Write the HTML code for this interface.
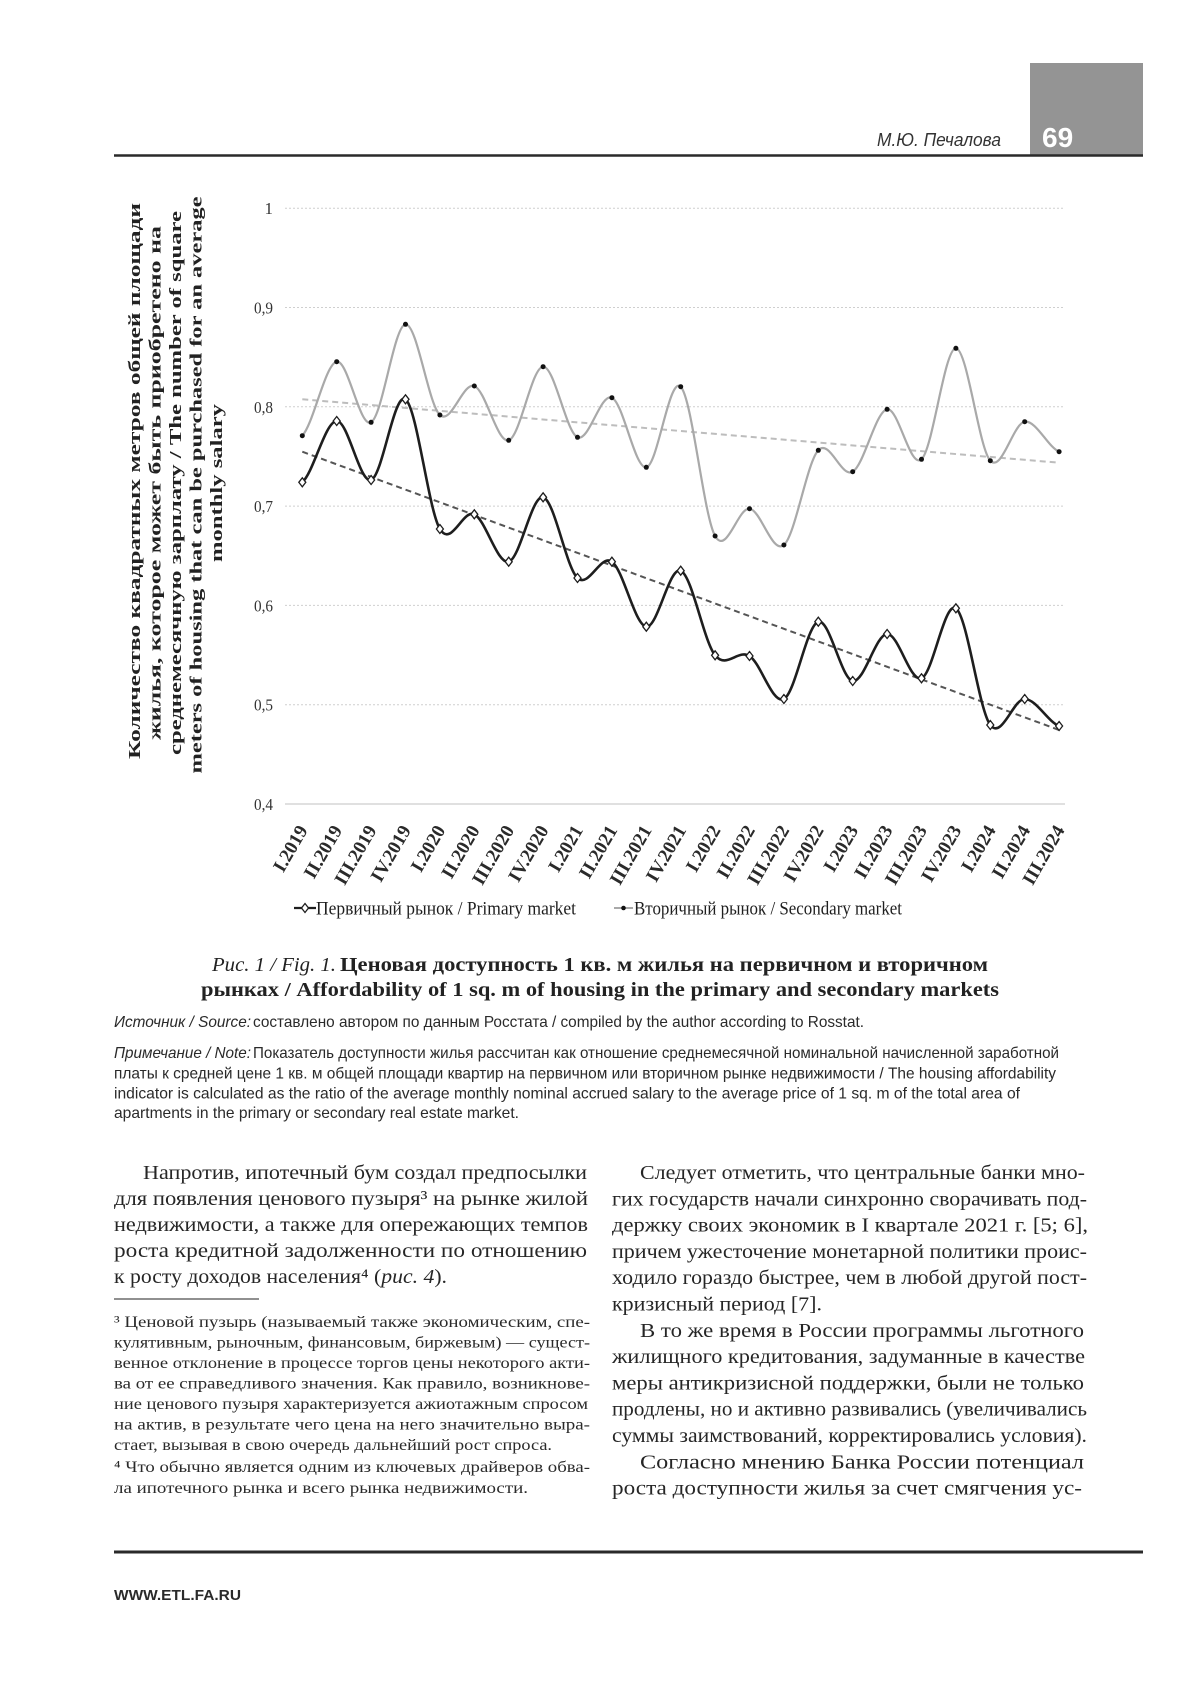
<!DOCTYPE html>
<html><head><meta charset="utf-8">
<style>
html,body{margin:0;padding:0;background:#fff;}
svg{display:block;}
.serif{font-family:"Liberation Serif","Noto Serif CJK SC",serif;}
.sans{font-family:"Liberation Sans","Noto Sans CJK SC",sans-serif;}
</style></head>
<body>
<svg width="1200" height="1697" viewBox="0 0 1200 1697" xmlns="http://www.w3.org/2000/svg">
<rect x="0" y="0" width="1200" height="1697" fill="#fff"/>

<!-- Header -->
<rect x="1030" y="63" width="113" height="93" fill="#949494"/>
<line x1="114" y1="155.5" x2="1143" y2="155.5" stroke="#2a2a2a" stroke-width="2.5"/>
<text x="1042" y="147" class="sans" font-size="28" font-weight="bold" fill="#fff">69</text>
<text x="877" y="146" class="sans" font-size="18" font-style="italic" fill="#333" textLength="124" lengthAdjust="spacingAndGlyphs">М.Ю. Печалова</text>

<!-- Chart gridlines -->
<g stroke="#cfcfcf" stroke-width="1" stroke-dasharray="2,2">
<line x1="285" y1="208.2" x2="1065" y2="208.2"/>
<line x1="285" y1="307.5" x2="1065" y2="307.5"/>
<line x1="285" y1="406.8" x2="1065" y2="406.8"/>
<line x1="285" y1="506.1" x2="1065" y2="506.1"/>
<line x1="285" y1="605.4" x2="1065" y2="605.4"/>
<line x1="285" y1="704.7" x2="1065" y2="704.7"/>
</g>
<line x1="285" y1="804" x2="1065" y2="804" stroke="#d6d6d6" stroke-width="1.5"/>

<!-- Y tick labels -->
<g class="serif" font-size="17" fill="#333" text-anchor="end">
<text x="273" y="214">1</text>
<text x="273" y="313.5" textLength="19" lengthAdjust="spacingAndGlyphs">0,9</text>
<text x="273" y="412.8" textLength="19" lengthAdjust="spacingAndGlyphs">0,8</text>
<text x="273" y="512.1" textLength="19" lengthAdjust="spacingAndGlyphs">0,7</text>
<text x="273" y="611.4" textLength="19" lengthAdjust="spacingAndGlyphs">0,6</text>
<text x="273" y="710.7" textLength="19" lengthAdjust="spacingAndGlyphs">0,5</text>
<text x="273" y="810" textLength="19" lengthAdjust="spacingAndGlyphs">0,4</text>
</g>

<!-- Y axis title -->
<g class="serif" font-size="17" font-weight="bold" fill="#222" text-anchor="middle">
<text transform="translate(140,481) rotate(-90)" textLength="556" lengthAdjust="spacingAndGlyphs">Количество квадратных метров общей площади</text>
<text transform="translate(160.5,483) rotate(-90)" textLength="514" lengthAdjust="spacingAndGlyphs">жилья, которое может быть приобретено на</text>
<text transform="translate(181,483) rotate(-90)" textLength="544" lengthAdjust="spacingAndGlyphs">среднемесячную зарплату / The number of square</text>
<text transform="translate(201.5,485) rotate(-90)" textLength="577" lengthAdjust="spacingAndGlyphs">meters of housing that can be purchased for an average</text>
<text transform="translate(222,483) rotate(-90)" textLength="158" lengthAdjust="spacingAndGlyphs">monthly salary</text>
</g>

<!-- Trend lines -->
<line x1="302.3" y1="399.3" x2="1059.1" y2="462.7" stroke="#bdbdbd" stroke-width="2" stroke-dasharray="6,4"/>
<line x1="302.3" y1="451.7" x2="1059.1" y2="730" stroke="#555" stroke-width="2" stroke-dasharray="6,4"/>

<!-- Secondary series (gray) -->
<path fill="none" stroke="#a9a9a9" stroke-width="2.2" d="M302.3,435.7
C313.77,423.37 325.23,363.93 336.7,361.7
C348.17,359.47 359.63,428.53 371.1,422.3
C382.57,416.07 394.03,325.52 405.5,324.3
C416.97,323.08 428.43,404.72 439.9,415
C451.37,425.28 462.83,381.78 474.3,386
C485.77,390.22 497.23,443.52 508.7,440.3
C520.17,437.08 531.63,367.2 543.1,366.7
C554.57,366.2 566.03,432.13 577.5,437.3
C588.97,442.47 600.43,392.7 611.9,397.7
C623.37,402.7 634.83,469.13 646.3,467.3
C657.77,465.47 669.23,375.25 680.7,386.7
C692.17,398.15 703.63,515.67 715.1,536
C726.57,556.33 738.03,507.2 749.5,508.7
C760.97,510.2 772.43,554.73 783.9,545
C795.37,535.27 806.83,462.52 818.3,450.3
C829.77,438.08 841.23,478.53 852.7,471.7
C864.17,464.87 875.63,411.37 887.1,409.3
C898.57,407.23 910.03,469.47 921.5,459.3
C932.97,449.13 944.43,348.07 955.9,348.3
C967.37,348.53 978.83,448.47 990.3,460.7
C1001.77,472.93 1013.23,423.2 1024.7,421.7
C1036.17,420.2 1047.63,446.7 1059.1,451.7"/>

<!-- Primary series (black) -->
<path fill="none" stroke="#1e1e1e" stroke-width="2.6" d="M302.3,482.3
C313.77,472.08 325.23,421.38 336.7,421
C348.17,420.62 359.63,483.62 371.1,480
C382.57,476.38 394.03,391.13 405.5,399.3
C416.97,407.47 428.43,509.83 439.9,529
C451.37,548.17 462.83,508.85 474.3,514.3
C485.77,519.75 497.23,564.53 508.7,561.7
C520.17,558.87 531.63,494.58 543.1,497.3
C554.57,500.02 566.03,567.27 577.5,578
C588.97,588.73 600.43,553.58 611.9,561.7
C623.37,569.82 634.83,625.2 646.3,626.7
C657.77,628.2 669.23,565.93 680.7,570.7
C692.17,575.47 703.63,641.08 715.1,655.3
C726.57,669.52 738.03,648.72 749.5,656
C760.97,663.28 772.43,704.72 783.9,699
C795.37,693.28 806.83,624.7 818.3,621.7
C829.77,618.7 841.23,678.95 852.7,681
C864.17,683.05 875.63,634.45 887.1,634
C898.57,633.55 910.03,682.58 921.5,678.3
C932.97,674.02 944.43,600.52 955.9,608.3
C967.37,616.08 978.83,709.88 990.3,725
C1001.77,740.12 1013.23,698.83 1024.7,699
C1036.17,699.17 1047.63,721.5 1059.1,726"/>

<!-- Secondary markers -->
<g fill="#111">
<circle cx="302.3" cy="435.7" r="2.5"/><circle cx="336.7" cy="361.7" r="2.5"/><circle cx="371.1" cy="422.3" r="2.5"/>
<circle cx="405.5" cy="324.3" r="2.5"/><circle cx="439.9" cy="415" r="2.5"/><circle cx="474.3" cy="386" r="2.5"/>
<circle cx="508.7" cy="440.3" r="2.5"/><circle cx="543.1" cy="366.7" r="2.5"/><circle cx="577.5" cy="437.3" r="2.5"/>
<circle cx="611.9" cy="397.7" r="2.5"/><circle cx="646.3" cy="467.3" r="2.5"/><circle cx="680.7" cy="386.7" r="2.5"/>
<circle cx="715.1" cy="536" r="2.5"/><circle cx="749.5" cy="508.7" r="2.5"/><circle cx="783.9" cy="545" r="2.5"/>
<circle cx="818.3" cy="450.3" r="2.5"/><circle cx="852.7" cy="471.7" r="2.5"/><circle cx="887.1" cy="409.3" r="2.5"/>
<circle cx="921.5" cy="459.3" r="2.5"/><circle cx="955.9" cy="348.3" r="2.5"/><circle cx="990.3" cy="460.7" r="2.5"/>
<circle cx="1024.7" cy="421.7" r="2.5"/><circle cx="1059.1" cy="451.7" r="2.5"/>
</g>

<!-- Primary markers (open diamonds) -->
<path fill="#fff" stroke="#1e1e1e" stroke-width="1.3" d="
M302.3,477.8 l3.5,4.5 l-3.5,4.5 l-3.5,-4.5 z
M336.7,416.5 l3.5,4.5 l-3.5,4.5 l-3.5,-4.5 z
M371.1,475.5 l3.5,4.5 l-3.5,4.5 l-3.5,-4.5 z
M405.5,394.8 l3.5,4.5 l-3.5,4.5 l-3.5,-4.5 z
M439.9,524.5 l3.5,4.5 l-3.5,4.5 l-3.5,-4.5 z
M474.3,509.8 l3.5,4.5 l-3.5,4.5 l-3.5,-4.5 z
M508.7,557.2 l3.5,4.5 l-3.5,4.5 l-3.5,-4.5 z
M543.1,492.8 l3.5,4.5 l-3.5,4.5 l-3.5,-4.5 z
M577.5,573.5 l3.5,4.5 l-3.5,4.5 l-3.5,-4.5 z
M611.9,557.2 l3.5,4.5 l-3.5,4.5 l-3.5,-4.5 z
M646.3,622.2 l3.5,4.5 l-3.5,4.5 l-3.5,-4.5 z
M680.7,566.2 l3.5,4.5 l-3.5,4.5 l-3.5,-4.5 z
M715.1,650.8 l3.5,4.5 l-3.5,4.5 l-3.5,-4.5 z
M749.5,651.5 l3.5,4.5 l-3.5,4.5 l-3.5,-4.5 z
M783.9,694.5 l3.5,4.5 l-3.5,4.5 l-3.5,-4.5 z
M818.3,617.2 l3.5,4.5 l-3.5,4.5 l-3.5,-4.5 z
M852.7,676.5 l3.5,4.5 l-3.5,4.5 l-3.5,-4.5 z
M887.1,629.5 l3.5,4.5 l-3.5,4.5 l-3.5,-4.5 z
M921.5,673.8 l3.5,4.5 l-3.5,4.5 l-3.5,-4.5 z
M955.9,603.8 l3.5,4.5 l-3.5,4.5 l-3.5,-4.5 z
M990.3,720.5 l3.5,4.5 l-3.5,4.5 l-3.5,-4.5 z
M1024.7,694.5 l3.5,4.5 l-3.5,4.5 l-3.5,-4.5 z
M1059.1,721.5 l3.5,4.5 l-3.5,4.5 l-3.5,-4.5 z"/>

<!-- X labels -->
<g class="serif" font-size="19" font-weight="bold" fill="#2a2a2a" text-anchor="end">
<text transform="translate(308.3,830) rotate(-60)">I.2019</text>
<text transform="translate(342.7,830) rotate(-60)">II.2019</text>
<text transform="translate(377.1,830) rotate(-60)">III.2019</text>
<text transform="translate(411.5,830) rotate(-60)">IV.2019</text>
<text transform="translate(445.9,830) rotate(-60)">I.2020</text>
<text transform="translate(480.3,830) rotate(-60)">II.2020</text>
<text transform="translate(514.7,830) rotate(-60)">III.2020</text>
<text transform="translate(549.1,830) rotate(-60)">IV.2020</text>
<text transform="translate(583.5,830) rotate(-60)">I.2021</text>
<text transform="translate(617.9,830) rotate(-60)">II.2021</text>
<text transform="translate(652.3,830) rotate(-60)">III.2021</text>
<text transform="translate(686.7,830) rotate(-60)">IV.2021</text>
<text transform="translate(721.1,830) rotate(-60)">I.2022</text>
<text transform="translate(755.5,830) rotate(-60)">II.2022</text>
<text transform="translate(789.9,830) rotate(-60)">III.2022</text>
<text transform="translate(824.3,830) rotate(-60)">IV.2022</text>
<text transform="translate(858.7,830) rotate(-60)">I.2023</text>
<text transform="translate(893.1,830) rotate(-60)">II.2023</text>
<text transform="translate(927.5,830) rotate(-60)">III.2023</text>
<text transform="translate(961.9,830) rotate(-60)">IV.2023</text>
<text transform="translate(996.3,830) rotate(-60)">I.2024</text>
<text transform="translate(1030.7,830) rotate(-60)">II.2024</text>
<text transform="translate(1065.1,830) rotate(-60)">III.2024</text>
</g>

<!-- Legend -->
<line x1="294" y1="908" x2="316" y2="908" stroke="#1e1e1e" stroke-width="2.2"/>
<path d="M305,903.5 l3.5,4.5 l-3.5,4.5 l-3.5,-4.5 z" fill="#fff" stroke="#1e1e1e" stroke-width="1.3"/>
<text x="316" y="914.5" class="serif" font-size="19" fill="#1e1e1e" textLength="260" lengthAdjust="spacingAndGlyphs">Первичный рынок / Primary market</text>
<line x1="614" y1="908" x2="633" y2="908" stroke="#a9a9a9" stroke-width="2"/>
<circle cx="623.5" cy="908" r="2.3" fill="#111"/>
<text x="634" y="914.5" class="serif" font-size="19" fill="#1e1e1e" textLength="268" lengthAdjust="spacingAndGlyphs">Вторичный рынок / Secondary market</text>

<!-- Caption -->
<text x="212" y="971" class="serif" font-size="20" font-style="italic" fill="#222" textLength="124" lengthAdjust="spacingAndGlyphs">Рис. 1 / Fig. 1.</text>
<text x="340" y="971" class="serif" font-size="20" font-weight="bold" fill="#222" textLength="648" lengthAdjust="spacingAndGlyphs">Ценовая доступность 1 кв. м жилья на первичном и вторичном</text>
<text x="201" y="996" class="serif" font-size="20" font-weight="bold" fill="#222" textLength="798" lengthAdjust="spacingAndGlyphs">рынках / Affordability of 1 sq. m of housing in the primary and secondary markets</text>

<!-- Source & note -->
<g class="sans" font-size="16" fill="#2a2a2a">
<text x="114" y="1027" font-style="italic" textLength="137" lengthAdjust="spacingAndGlyphs">Источник / Source:</text>
<text x="253" y="1027" textLength="611" lengthAdjust="spacingAndGlyphs">составлено автором по данным Росстата / compiled by the author according to Rosstat.</text>
<text x="114" y="1058" font-style="italic" textLength="137" lengthAdjust="spacingAndGlyphs">Примечание / Note:</text>
<text x="253" y="1058" textLength="806" lengthAdjust="spacingAndGlyphs">Показатель доступности жилья рассчитан как отношение среднемесячной номинальной начисленной заработной</text>
<text x="114" y="1078.5" textLength="942" lengthAdjust="spacingAndGlyphs">платы к средней цене 1 кв. м общей площади квартир на первичном или вторичном рынке недвижимости / The housing affordability</text>
<text x="114" y="1098.5" textLength="906" lengthAdjust="spacingAndGlyphs">indicator is calculated as the ratio of the average monthly nominal accrued salary to the average price of 1 sq. m of the total area of</text>
<text x="114" y="1118" textLength="405" lengthAdjust="spacingAndGlyphs">apartments in the primary or secondary real estate market.</text>
</g>

<!-- Left column body -->
<g class="serif" font-size="20.5" fill="#262626">
<text x="143" y="1179" textLength="444" lengthAdjust="spacingAndGlyphs">Напротив, ипотечный бум создал предпосылки</text>
<text x="114" y="1205" textLength="474" lengthAdjust="spacingAndGlyphs">для появления ценового пузыря³ на рынке жилой</text>
<text x="114" y="1231" textLength="474" lengthAdjust="spacingAndGlyphs">недвижимости, а также для опережающих темпов</text>
<text x="114" y="1257" textLength="473" lengthAdjust="spacingAndGlyphs">роста кредитной задолженности по отношению</text>
<text x="114" y="1283" textLength="333" lengthAdjust="spacingAndGlyphs">к росту доходов населения⁴ (<tspan font-style="italic">рис. 4</tspan>).</text>
</g>
<line x1="114" y1="1299" x2="259" y2="1299" stroke="#222" stroke-width="1"/>

<!-- Footnotes -->
<g class="serif" font-size="16.3" fill="#2a2a2a">
<text x="114" y="1327" textLength="476" lengthAdjust="spacingAndGlyphs">³ Ценовой пузырь (называемый также экономическим, спе-</text>
<text x="114" y="1347.5" textLength="476" lengthAdjust="spacingAndGlyphs">кулятивным, рыночным, финансовым, биржевым) — сущест-</text>
<text x="114" y="1368" textLength="476" lengthAdjust="spacingAndGlyphs">венное отклонение в процессе торгов цены некоторого акти-</text>
<text x="114" y="1388.5" textLength="476" lengthAdjust="spacingAndGlyphs">ва от ее справедливого значения. Как правило, возникнове-</text>
<text x="114" y="1409" textLength="474" lengthAdjust="spacingAndGlyphs">ние ценового пузыря характеризуется ажиотажным спросом</text>
<text x="114" y="1429.5" textLength="476" lengthAdjust="spacingAndGlyphs">на актив, в результате чего цена на него значительно выра-</text>
<text x="114" y="1450" textLength="438" lengthAdjust="spacingAndGlyphs">стает, вызывая в свою очередь дальнейший рост спроса.</text>
<text x="114" y="1472" textLength="476" lengthAdjust="spacingAndGlyphs">⁴ Что обычно является одним из ключевых драйверов обва-</text>
<text x="114" y="1493" textLength="414" lengthAdjust="spacingAndGlyphs">ла ипотечного рынка и всего рынка недвижимости.</text>
</g>

<!-- Right column body -->
<g class="serif" font-size="20.5" fill="#262626">
<text x="640" y="1179" textLength="445" lengthAdjust="spacingAndGlyphs">Следует отметить, что центральные банки мно-</text>
<text x="612" y="1205.3" textLength="475" lengthAdjust="spacingAndGlyphs">гих государств начали синхронно сворачивать под-</text>
<text x="612" y="1231.6" textLength="476" lengthAdjust="spacingAndGlyphs">держку своих экономик в I квартале 2021 г. [5; 6],</text>
<text x="612" y="1257.9" textLength="475" lengthAdjust="spacingAndGlyphs">причем ужесточение монетарной политики проис-</text>
<text x="612" y="1284.2" textLength="475" lengthAdjust="spacingAndGlyphs">ходило гораздо быстрее, чем в любой другой пост-</text>
<text x="612" y="1310.5" textLength="210" lengthAdjust="spacingAndGlyphs">кризисный период [7].</text>
<text x="640" y="1336.8" textLength="444" lengthAdjust="spacingAndGlyphs">В то же время в России программы льготного</text>
<text x="612" y="1363.1" textLength="473" lengthAdjust="spacingAndGlyphs">жилищного кредитования, задуманные в качестве</text>
<text x="612" y="1389.4" textLength="472" lengthAdjust="spacingAndGlyphs">меры антикризисной поддержки, были не только</text>
<text x="612" y="1415.7" textLength="475" lengthAdjust="spacingAndGlyphs">продлены, но и активно развивались (увеличивались</text>
<text x="612" y="1442" textLength="475" lengthAdjust="spacingAndGlyphs">суммы заимствований, корректировались условия).</text>
<text x="640" y="1468.3" textLength="444" lengthAdjust="spacingAndGlyphs">Согласно мнению Банка России потенциал</text>
<text x="612" y="1494.6" textLength="470" lengthAdjust="spacingAndGlyphs">роста доступности жилья за счет смягчения ус-</text>
</g>

<!-- Footer -->
<line x1="114" y1="1552" x2="1143" y2="1552" stroke="#2a2a2a" stroke-width="3"/>
<text x="114" y="1600" class="sans" font-size="15" font-weight="bold" fill="#2a2a2a" textLength="127" lengthAdjust="spacingAndGlyphs">WWW.ETL.FA.RU</text>
</svg>
</body></html>
